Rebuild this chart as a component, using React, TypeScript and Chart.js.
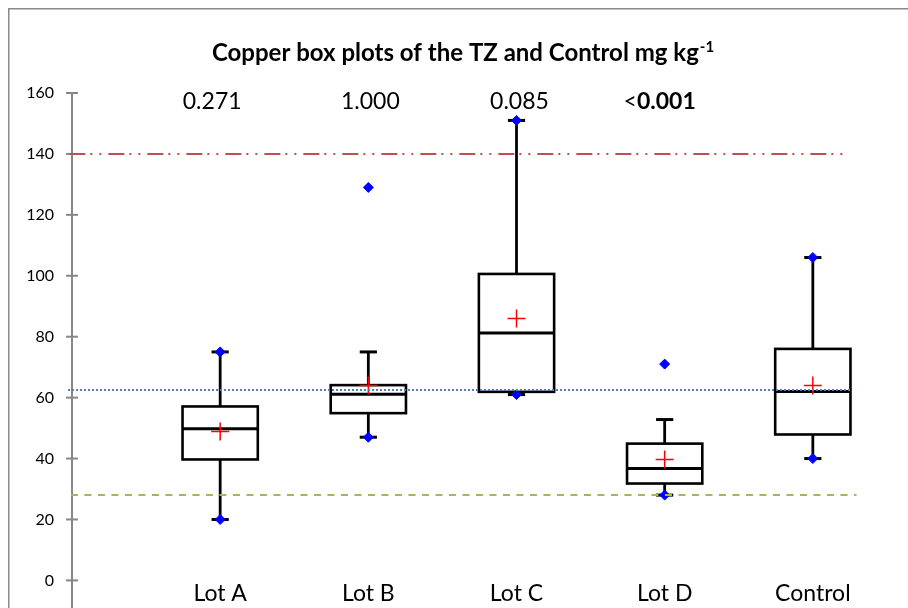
import React, { useEffect, useRef } from 'react';
import { Chart, registerables } from 'chart.js';

Chart.register(...registerables);

// ---- data ----
const categories = ['Lot A', 'Lot B', 'Lot C', 'Lot D', 'Control'];
const whiskerLow = [20, 47, 61, 28, 40];
const q1 = [39.7, 54.9, 61.9, 31.8, 47.9];
const median = [49.8, 61.1, 81.2, 36.7, 62];
const q3 = [57.1, 64.1, 100.6, 44.9, 76];
const whiskerHigh = [75, 75, 151, 52.8, 106];
const means = [48.9, 64, 86, 39.7, 64];
const minValues = [20, 47, 61, 28, 40];
const maxValues = [75, 129, 151, 71, 106];

const pPrefix = ['', '', '', '<'];
const pText = ['0.271', '1.000', '0.085', '0.001'];
const pBold = [false, false, false, true];

const titleMain = 'Copper box plots of the TZ and Control mg kg';
const titleSup = '-1';

const yTicks = [0, 20, 40, 60, 80, 100, 120, 140, 160];

const upperLimit = 140;
const controlMedianLine = 62.5;
const lowerLimit = 28;
const upperRange = [-0.018, 5.221];
const medianRange = [-0.027, 5.256];
const lowerRange = [-0.007, 5.295];

const FONT = 'Lato, "Noto Sans", sans-serif';

export default function App() {
  const ref = useRef<HTMLCanvasElement>(null);

  useEffect(() => {
    const canvas = ref.current;
    if (!canvas) return;

    const BOX_HALF = 0.254;
    const CAP_HALF = 0.058;

    const line = (ctx: CanvasRenderingContext2D, x1: number, y1: number, x2: number, y2: number) => {
      ctx.beginPath();
      ctx.moveTo(x1, y1);
      ctx.lineTo(x2, y2);
      ctx.stroke();
    };

    const boxPlugin = {
      id: 'boxes',
      beforeDatasetsDraw(chart: any) {
        const { ctx } = chart;
        const x = chart.scales.x;
        const y = chart.scales.y;
        ctx.save();
        ctx.strokeStyle = '#000';
        categories.forEach((_, i) => {
          const v = i + 1;
          const cx = x.getPixelForValue(v);
          const half = x.getPixelForValue(v + BOX_HALF) - cx;
          const cap = x.getPixelForValue(v + CAP_HALF) - cx;
          const yLo = y.getPixelForValue(whiskerLow[i]);
          const yHi = y.getPixelForValue(whiskerHigh[i]);
          const yQ1 = y.getPixelForValue(q1[i]);
          const yQ3 = y.getPixelForValue(q3[i]);
          const yMed = y.getPixelForValue(median[i]);
          ctx.lineWidth = 2.8;
          line(ctx, cx, yLo, cx, yQ1);
          line(ctx, cx, yQ3, cx, yHi);
          ctx.lineWidth = 3;
          line(ctx, cx - cap, yLo, cx + cap, yLo);
          line(ctx, cx - cap, yHi, cx + cap, yHi);
          ctx.lineWidth = 2.6;
          ctx.strokeRect(cx - half, yQ3, 2 * half, yQ1 - yQ3);
          ctx.lineWidth = 3;
          line(ctx, cx - half, yMed, cx + half, yMed);
        });
        // y axis line + crossing ticks
        const ax = x.getPixelForValue(0);
        ctx.strokeStyle = '#878787';
        ctx.lineWidth = 2;
        line(ctx, ax, y.getPixelForValue(yTicks[yTicks.length - 1]), ax, chart.height);
        yTicks.forEach((t) => {
          const py = y.getPixelForValue(t);
          line(ctx, ax - 6, py, ax + 6, py);
        });
        ctx.restore();
      },
      afterDraw(chart: any) {
        const { ctx } = chart;
        const x = chart.scales.x;
        ctx.save();
        // frame
        ctx.strokeStyle = '#8a8a8a';
        ctx.lineWidth = 1.5;
        line(ctx, 0.75, 0, 0.75, chart.height);
        line(ctx, 0, 0.75, chart.width, 0.75);

        // title
        ctx.fillStyle = '#000';
        ctx.textBaseline = 'alphabetic';
        ctx.textAlign = 'left';
        const mainFont = `bold 24px ${FONT}`;
        const supFont = `bold 15px ${FONT}`;
        ctx.font = mainFont;
        const wMain = ctx.measureText(titleMain).width;
        ctx.font = supFont;
        const wSup = ctx.measureText(titleSup).width;
        const total = wMain + wSup + 1;
        const tcx = 455;
        const tBase = 53;
        const sx = tcx - total / 2;
        ctx.font = mainFont;
        ctx.fillText(titleMain, sx, tBase);
        ctx.font = supFont;
        ctx.fillText(titleSup, sx + wMain + 1, tBase - 9);

        // p-values
        const nudges = [-8, 2, 3, -5];
        pText.forEach((t, i) => {
          const cx = x.getPixelForValue(i + 1) + nudges[i];
          const base = 101;
          const fPre = `23px ${FONT}`;
          const fTxt = `${pBold[i] ? 'bold ' : ''}23px ${FONT}`;
          ctx.font = fPre;
          const wPre = ctx.measureText(pPrefix[i]).width;
          ctx.font = fTxt;
          const wTxt = ctx.measureText(t).width;
          const start = cx - (wPre + wTxt) / 2;
          ctx.font = fPre;
          ctx.fillText(pPrefix[i], start, base);
          ctx.font = fTxt;
          ctx.fillText(t, start + wPre, base);
        });
        ctx.restore();
      },
    };

    const refLine = (value: number, range: number[], color: string, dash: number[]) => ({
      type: 'line' as const,
      data: [
        { x: range[0], y: value },
        { x: range[1], y: value },
      ],
      borderColor: color,
      borderWidth: 2,
      borderDash: dash,
      pointRadius: 0,
      showLine: true,
      fill: false,
      clip: false as any,
    });

    const chart = new Chart(canvas, {
      type: 'scatter',
      data: {
        datasets: [
          refLine(upperLimit, upperRange, '#C0504D', [16, 5, 2, 7, 2, 7]),
          refLine(controlMedianLine, medianRange, '#4F81BD', [2, 2]),
          refLine(lowerLimit, lowerRange, '#9BBB59', [7, 6.5]),
          {
            type: 'scatter',
            data: [
              ...minValues.map((v, i) => ({ x: i + 1, y: v })),
              ...maxValues.map((v, i) => ({ x: i + 1, y: v })),
            ],
            pointStyle: 'rectRot',
            pointRadius: 5,
            backgroundColor: '#0000FF',
            borderColor: '#0000FF',
            borderWidth: 1,
            clip: false as any,
          },
          {
            type: 'scatter',
            data: means.map((v, i) => ({ x: i + 1, y: v })),
            pointStyle: 'cross',
            pointRadius: 9,
            borderColor: '#FF0000',
            borderWidth: 1.5,
            clip: false as any,
          },
        ] as any,
      },
      options: {
        animation: false,
        responsive: false,
        layout: { padding: { top: 85, right: 47, left: 0, bottom: 0 } },
        plugins: {
          legend: { display: false },
          tooltip: { enabled: false },
          title: { display: false },
        },
        scales: {
          x: {
            type: 'linear',
            min: 0,
            max: 6,
            grid: { display: false, drawTicks: false },
            border: { display: false },
            afterBuildTicks: (scale: any) => {
              scale.ticks = categories.map((_, i) => ({ value: i + 1 }));
            },
            afterFit: (scale: any) => {
              scale.height = 26;
            },
            ticks: {
              font: { family: FONT, size: 23 },
              color: '#000',
              padding: -1,
              maxRotation: 0,
              autoSkip: false,
              callback: (v: any) => categories[Number(v) - 1] ?? '',
            },
          },
          y: {
            type: 'linear',
            min: 0,
            max: 160,
            grid: { display: false, drawTicks: false },
            border: { display: false },
            afterBuildTicks: (scale: any) => {
              scale.ticks = yTicks.map((v) => ({ value: v }));
            },
            afterFit: (scale: any) => {
              scale.width = 64;
            },
            ticks: {
              font: { family: FONT, size: 16 },
              color: '#000',
              padding: 18,
            },
          },
        },
      },
      plugins: [boxPlugin],
    });

    return () => chart.destroy();
  }, []);

  return (
    <div
      style={{
        position: 'fixed',
        left: 8,
        top: 8,
        width: 900,
        height: 600,
        overflow: 'hidden',
        background: '#fff',
      }}
    >
      <canvas ref={ref} width={1000} height={600} style={{ display: 'block', width: 1000, height: 600 }} />
    </div>
  );
}
